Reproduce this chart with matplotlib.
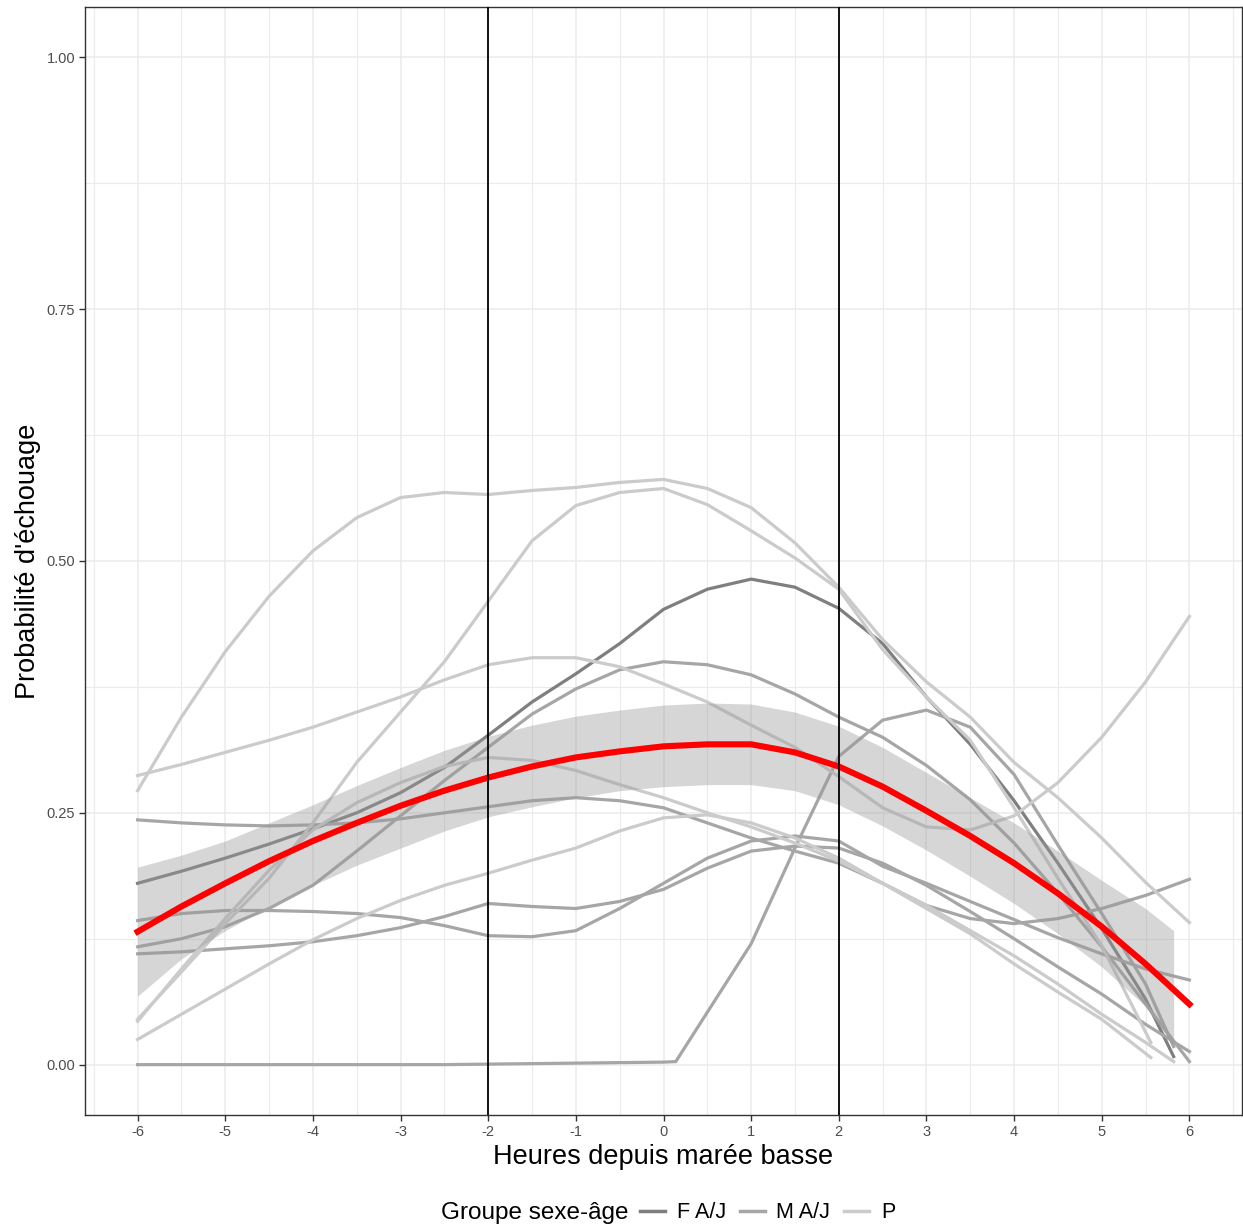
import numpy as np
import matplotlib
matplotlib.use("Agg")
import matplotlib.pyplot as plt
from matplotlib.lines import Line2D

plt.rcParams['font.family'] = ['Liberation Sans', 'DejaVu Sans']

# hours since low tide (half-hour steps)
hours = [-6, -5.5, -5, -4.5, -4, -3.5, -3, -2.5, -2, -1.5, -1, -0.5, 0,
         0.5, 1, 1.5, 2, 2.5, 3, 3.5, 4, 4.5, 5, 5.5, 6]
hours_582 = hours[:-1] + [5.82]
hours_556 = hours[:-2] + [5.56]
hours_m5 = hours[:13] + [0.14] + hours[13:-1] + [5.82]

# F A/J
f1 = [.180, .192, .205, .219, .234, .250, .270, .295, .327, .360, .388, .418, .452,
      .472, .482, .474, .453, .418, .365, .318, .262, .200, .135, .065, .008]

# M A/J
m1 = [.117, .125, .137, .155, .178, .212, .247, .282, .315, .348, .373, .392, .400,
      .397, .387, .368, .345, .325, .297, .263, .220, .170, .117, .060, .003]
m2 = [.243, .240, .238, .237, .238, .240, .244, .250, .256, .262, .265, .262, .255,
      .240, .225, .212, .200, .180, .158, .145, .140, .145, .155, .168, .184]
m3 = [.143, .150, .153, .153, .152, .150, .146, .138, .128, .127, .133, .155, .180,
      .205, .222, .227, .222, .197, .180, .162, .144, .126, .110, .095, .084]
m4 = [.110, .112, .115, .118, .122, .128, .136, .147, .160, .157, .155, .162, .174,
      .195, .212, .217, .215, .200, .178, .152, .125, .097, .070, .040, .013]
m5 = [0, 0, 0, 0, 0, 0, 0, 0, .0005, .001, .0015, .002, .0025, .003,
      .052, .120, .215, .306, .342, .352, .335, .288, .218, .150, .080, .018]

# P
p1 = [.272, .345, .410, .465, .510, .543, .563, .568, .566, .570, .573, .578, .581,
      .572, .553, .518, .474, .422, .380, .345, .300, .265, .225, .181, .141]
p2 = [.045, .092, .140, .185, .240, .300, .350, .400, .460, .520, .555, .568, .572,
      .556, .530, .503, .472, .412, .365, .322, .255, .185, .118, .022]
p3 = [.287, .298, .310, .322, .335, .350, .365, .382, .397, .404, .404, .395, .378,
      .360, .337, .315, .286, .255, .236, .233, .247, .280, .325, .380, .445]
p4 = [.025, .050, .075, .100, .124, .145, .163, .178, .190, .203, .215, .232, .245,
      .248, .240, .225, .205, .180, .155, .130, .100, .072, .045, .007]
p5 = [.043, .095, .145, .193, .233, .260, .280, .296, .305, .302, .292, .278, .265,
      .250, .236, .220, .202, .180, .158, .133, .108, .080, .050, .022, .003]

# fitted mean and confidence band
fit = [.132, .157, .180, .202, .222, .240, .257, .272, .285, .296, .305, .311, .316,
       .318, .318, .310, .296, .276, .252, .227, .200, .170, .137, .100, .060]
band_hi = [.196, .208, .222, .240, .258, .277, .295, .312, .326, .337, .346, .352, .357,
           .359, .358, .350, .336, .315, .290, .265, .240, .212, .183, .155, .133]
band_lo = [.068, .105, .133, .157, .178, .198, .215, .232, .246, .256, .265, .272, .276,
           .278, .278, .272, .258, .237, .213, .187, .160, .130, .097, .058, .018]

c_f, c_m, c_p = '#7f7f7f', '#a6a6a6', '#cbcbcb'
group_labels = ['F A/J', 'M A/J', 'P']

fig = plt.figure(figsize=(12.43, 12.28), dpi=100)
ax = fig.add_axes([85 / 1243, 1 - 1115 / 1228, (1242 - 85) / 1243, (1115 - 7) / 1228])

lw = 2.3
ax.plot(hours_582, f1, color=c_f, lw=lw, zorder=2)
for y in [m1, m2, m3, m4]:
    ax.plot(hours, y, color=c_m, lw=lw, zorder=2)
ax.plot(hours_m5, m5, color=c_m, lw=lw, zorder=2)
ax.plot(hours, p1, color=c_p, lw=lw, zorder=2)
ax.plot(hours_556, p2, color=c_p, lw=lw, zorder=2)
ax.plot(hours, p3, color=c_p, lw=lw, zorder=2)
ax.plot(hours_556, p4, color=c_p, lw=lw, zorder=2)
ax.plot(hours_582, p5, color=c_p, lw=lw, zorder=2)

ax.fill_between(hours_582, band_lo, band_hi, color='#999999', alpha=0.4, lw=0, zorder=3)
ax.plot(hours, fit, color='red', lw=4.4, zorder=4)

for xv in [-2, 2]:
    ax.axvline(xv, color='black', lw=1.3, zorder=5)

ax.set_xlim(-6.6, 6.6)
ax.set_ylim(-0.05, 1.05)
ax.set_xticks(range(-6, 7))
ax.set_xticklabels([str(v) for v in range(-6, 7)])
ax.set_xticks(np.arange(-6.5, 6.6, 1.0), minor=True)
ax.set_yticks([0, 0.25, 0.5, 0.75, 1.0])
ax.set_yticklabels(['0.00', '0.25', '0.50', '0.75', '1.00'])
ax.set_yticks([0.125, 0.375, 0.625, 0.875], minor=True)
ax.grid(which='major', color='#ebebeb', lw=1.1, zorder=0)
ax.grid(which='minor', color='#ebebeb', lw=0.8, zorder=0)
ax.set_axisbelow(True)
ax.tick_params(which='major', length=4, width=1, color='#333333',
               labelsize=10.5, labelcolor='#4d4d4d', pad=3)
ax.tick_params(which='minor', length=0)
for s in ax.spines.values():
    s.set_color('#333333')
    s.set_linewidth(1.0)

ax.set_xlabel("Heures depuis marée basse", fontsize=19.5, labelpad=4)
ax.set_ylabel("Probabilité d'échouage", fontsize=19.5, labelpad=4)

# legend at the bottom
fig.text(441 / 1243, 1 - 1213 / 1228, 'Groupe sexe-âge', fontsize=17.5, va='center', ha='left')
handles = [Line2D([], [], color=c, lw=2.5) for c in (c_f, c_m, c_p)]
fig.legend(handles, group_labels, loc='center left', bbox_to_anchor=(640 / 1243, 1 - 1213 / 1228),
           ncol=3, frameon=False, fontsize=15.5, handlelength=1.15, handletextpad=0.55,
           columnspacing=0.65, borderpad=0, borderaxespad=0)

fig.savefig('out.png', dpi=100)
